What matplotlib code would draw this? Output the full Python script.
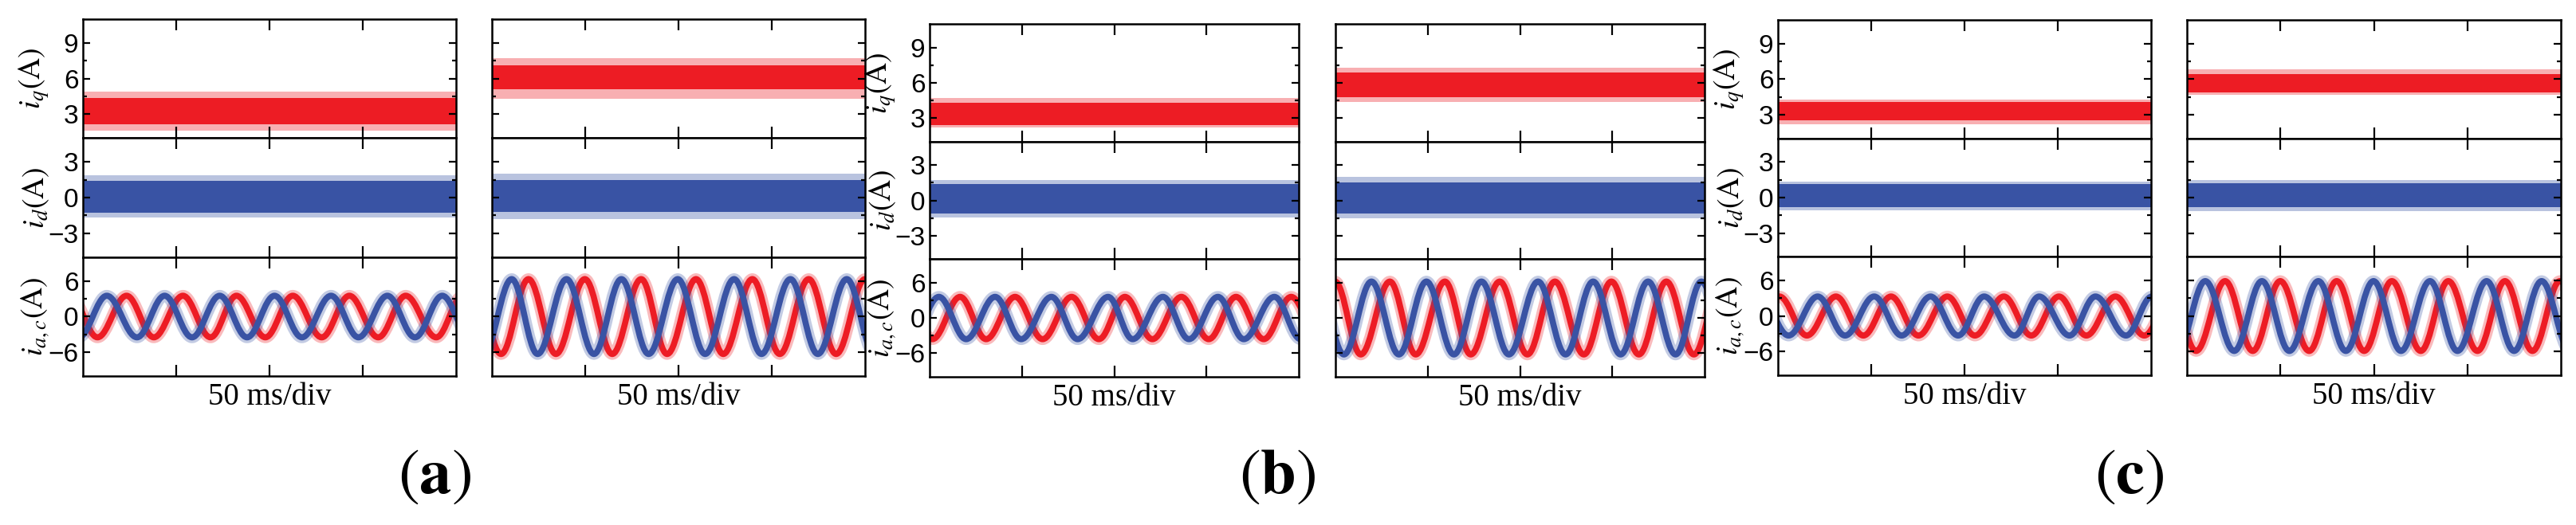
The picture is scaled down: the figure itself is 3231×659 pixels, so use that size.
import numpy as np
import matplotlib.pyplot as plt
from matplotlib.path import Path
from matplotlib.patches import PathPatch

plt.rcParams['font.family'] = ['Liberation Sans', 'DejaVu Sans']
plt.rcParams['mathtext.fontset'] = 'stix'

W, H = 3231, 659
RED = '#ed1c24'
BLUE = '#3953a4'

# time window of every scope shot: 4 div x 50 ms
t_span = [0, 200]

# panel order: a-left, a-right, b-left, b-right, c-left, c-right
# i_q band (A): dense core and the outer spikes
iq_core_lo = [2.15, 5.1, 2.4, 4.8, 2.5, 4.9]
iq_core_hi = [4.4, 7.1, 4.3, 6.85, 4.05, 6.45]
iq_peak_lo = [1.6, 4.3, 2.2, 4.35, 2.2, 4.7]
iq_peak_hi = [4.9, 7.7, 4.7, 7.3, 4.3, 6.8]

# i_d band (A)
id_core_lo = [-1.27, -1.22, -1.14, -1.12, -0.78, -0.83]
id_core_hi = [1.4, 1.44, 1.37, 1.49, 1.16, 1.24]
id_peak_lo = [-1.67, -1.78, -1.48, -1.5, -1.08, -1.14]
id_peak_hi = [1.87, 2.0, 1.7, 2.0, 1.37, 1.45]

# phase currents: extrema (time ms, value A)
ia_t = [
    [-6.8, 7.8, 23.4, 38.0, 53.6, 68.4, 82.3, 97.8, 112.5, 128.0, 142.8, 158.3, 173.0, 189.4, 203.5],
    [-10.0, 4.9, 19.6, 34.3, 49.8, 64.5, 80.0, 93.9, 109.4, 124.0, 139.6, 154.3, 169.8, 184.5, 200.0, 214.5],
    [-13.5, 1.5, 16.5, 30.6, 46.3, 61.2, 76.9, 91.7, 105.8, 120.7, 136.4, 151.2, 166.0, 181.0, 195.9, 211.0],
    [-14.5, -0.2, 13.7, 29.5, 43.5, 59.3, 73.3, 89.0, 104.0, 118.9, 134.6, 149.5, 164.4, 179.3, 194.2, 209.0],
    [-14.0, 0.8, 15.5, 31.1, 45.8, 60.6, 75.3, 90.8, 105.6, 121.1, 135.8, 150.6, 165.3, 180.9, 196.4, 211.0],
    [-10.0, 4.9, 20.4, 35.2, 49.9, 65.4, 80.1, 94.8, 109.6, 125.1, 139.8, 155.4, 170.1, 184.8, 199.5, 214.5],
]
ia_v = [
    [3.5, -3.5, 3.5, -3.5, 3.5, -3.5, 3.5, -3.5, 3.5, -3.5, 3.5, -3.5, 3.5, -3.5, 3.5],
    [6.3, -6.3, 6.3, -6.3, 6.3, -6.3, 6.3, -6.3, 6.3, -6.3, 6.3, -6.3, 6.3, -6.3, 6.3, -6.3],
    [3.6, -3.6, 3.6, -3.6, 3.6, -3.6, 3.6, -3.6, 3.6, -3.6, 3.6, -3.6, 3.6, -3.6, 3.6, -3.6],
    [-6.2, 6.2, -6.2, 6.2, -6.2, 6.2, -6.2, 6.2, -6.2, 6.2, -6.2, 6.2, -6.2, 6.2, -6.2, 6.2],
    [-3.3, 3.3, -3.3, 3.3, -3.3, 3.3, -3.3, 3.3, -3.3, 3.3, -3.3, 3.3, -3.3, 3.3, -3.3, 3.3],
    [5.9, -5.9, 5.9, -5.9, 5.9, -5.9, 5.9, -5.9, 5.9, -5.9, 5.9, -5.9, 5.9, -5.9, 5.9, -5.9],
]
ic_t = [
    [-2.2, 12.8, 29.0, 43.8, 58.5, 73.3, 88.0, 102.7, 117.4, 133.0, 147.7, 163.2, 178.0, 192.6, 207.6],
    [-4.5, 10.6, 24.5, 40.0, 54.7, 69.4, 84.0, 99.6, 114.3, 129.8, 144.5, 160.0, 174.7, 190.2, 205.0],
    [-10.0, 5.0, 19.8, 35.5, 49.6, 66.0, 80.2, 96.7, 110.0, 126.4, 140.5, 156.2, 170.2, 186.8, 201.0],
    [-10.0, 4.6, 19.5, 34.4, 49.3, 64.2, 79.1, 94.0, 109.8, 124.7, 139.6, 154.5, 169.4, 184.3, 198.3, 213.0],
    [-9.5, 5.7, 21.3, 36.0, 51.6, 66.3, 81.8, 96.6, 110.5, 126.8, 140.0, 156.3, 170.2, 186.6, 200.5],
    [-5.2, 9.8, 25.3, 40.1, 54.8, 70.3, 85.0, 99.8, 114.5, 130.0, 144.7, 160.3, 175.0, 189.7, 205.0],
]
ic_v = [
    [-3.5, 3.5, -3.5, 3.5, -3.5, 3.5, -3.5, 3.5, -3.5, 3.5, -3.5, 3.5, -3.5, 3.5, -3.5],
    [-6.3, 6.3, -6.3, 6.3, -6.3, 6.3, -6.3, 6.3, -6.3, 6.3, -6.3, 6.3, -6.3, 6.3, -6.3],
    [-3.6, 3.6, -3.6, 3.6, -3.6, 3.6, -3.6, 3.6, -3.6, 3.6, -3.6, 3.6, -3.6, 3.6, -3.6],
    [6.2, -6.2, 6.2, -6.2, 6.2, -6.2, 6.2, -6.2, 6.2, -6.2, 6.2, -6.2, 6.2, -6.2, 6.2, -6.2],
    [3.3, -3.3, 3.3, -3.3, 3.3, -3.3, 3.3, -3.3, 3.3, -3.3, 3.3, -3.3, 3.3, -3.3, 3.3],
    [-5.9, 5.9, -5.9, 5.9, -5.9, 5.9, -5.9, 5.9, -5.9, 5.9, -5.9, 5.9, -5.9, 5.9, -5.9],
]

ylabels = [r'$i_q\mathrm{(A)}$', r'$i_d\mathrm{(A)}$', r'$i_{a,c}\mathrm{(A)}$']
group_labels = ['a', 'b', 'c']

# panel boxes in pixels: left, right, top, bottom
boxes = [(104, 572, 24, 472), (617, 1085, 24, 472),
         (1166, 1629, 30, 473), (1675, 2138, 30, 473),
         (2230, 2698, 25, 471), (2743, 3212, 25, 471)]


def wave_path(ts, vs, k=0.3634):
    # half-cosine between neighbouring extrema drawn as cubic bezier
    verts = [(ts[0], vs[0])]
    codes = [Path.MOVETO]
    for i in range(len(ts) - 1):
        h = ts[i + 1] - ts[i]
        verts += [(ts[i] + k * h, vs[i]), (ts[i + 1] - k * h, vs[i + 1]), (ts[i + 1], vs[i + 1])]
        codes += [Path.CURVE4] * 3
    return Path(verts, codes)


def draw_wave(ax, ts, vs, color):
    for lw, a in ((10.5, 0.3), (5.5, 1.0)):
        ax.add_patch(PathPatch(wave_path(ts, vs), fill=False, edgecolor=color,
                               lw=lw, alpha=a, joinstyle='round'))


def draw_band(ax, lo, hi, plo, phi, color):
    ax.fill_between(t_span, [plo, plo], [phi, phi], color=color, alpha=0.35, lw=0)
    ax.fill_between(t_span, [lo, lo], [hi, hi], color=color, lw=0)


def style_axis(ax, major, minor, ylim, labels):
    ax.set_xlim(t_span)
    ax.set_ylim(ylim)
    ax.set_xticks([50, 100, 150])
    ax.set_yticks(major)
    ax.set_yticks(minor, minor=True)
    ax.tick_params(axis='x', which='major', direction='in', top=True, bottom=True,
                   length=10, width=1.6, labelbottom=False)
    ax.tick_params(axis='x', which='minor', top=False, bottom=False)
    ax.tick_params(axis='y', which='major', direction='in', left=True, right=True,
                   length=6.5, width=1.6, labelleft=labels, labelsize=24, pad=4)
    ax.tick_params(axis='y', which='minor', direction='in', left=True, right=True,
                   length=3.6, width=1.6)
    for s in ax.spines.values():
        s.set_linewidth(1.8)


fig = plt.figure(figsize=(W / 100, H / 100), dpi=100)

for p, (L, R, T, B) in enumerate(boxes):
    rh = (B - T) / 3
    axs = []
    for r in range(3):
        top = T + r * rh
        ax = fig.add_axes([L / W, 1 - (top + rh) / H, (R - L) / W, rh / H])
        axs.append(ax)
    first = (p % 2 == 0)

    draw_band(axs[0], iq_core_lo[p], iq_core_hi[p], iq_peak_lo[p], iq_peak_hi[p], RED)
    style_axis(axs[0], [3, 6, 9], [4.5, 7.5], (1, 11), first)

    draw_band(axs[1], id_core_lo[p], id_core_hi[p], id_peak_lo[p], id_peak_hi[p], BLUE)
    style_axis(axs[1], [-3, 0, 3], [-1.5, 1.5], (-5, 5), first)

    draw_wave(axs[2], ia_t[p], ia_v[p], RED)
    draw_wave(axs[2], ic_t[p], ic_v[p], BLUE)
    style_axis(axs[2], [-6, 0, 6], [-3, 3], (-10, 10), first)

    if first:
        for ax, lab in zip(axs, ylabels):
            ax.set_ylabel(lab, fontsize=27)
            ax.yaxis.set_label_coords(-0.086, 0.5)
        g = group_labels[p // 2]
        fig.text((R - 27) / W, 1 - 598 / H, r'$(\mathbf{%s})$' % g,
                 fontsize=58, ha='center', va='center')

    axs[2].set_xlabel('50 ms/div', fontfamily='Liberation Serif', fontsize=28, labelpad=6)

fig.savefig('out.png', dpi=100)
